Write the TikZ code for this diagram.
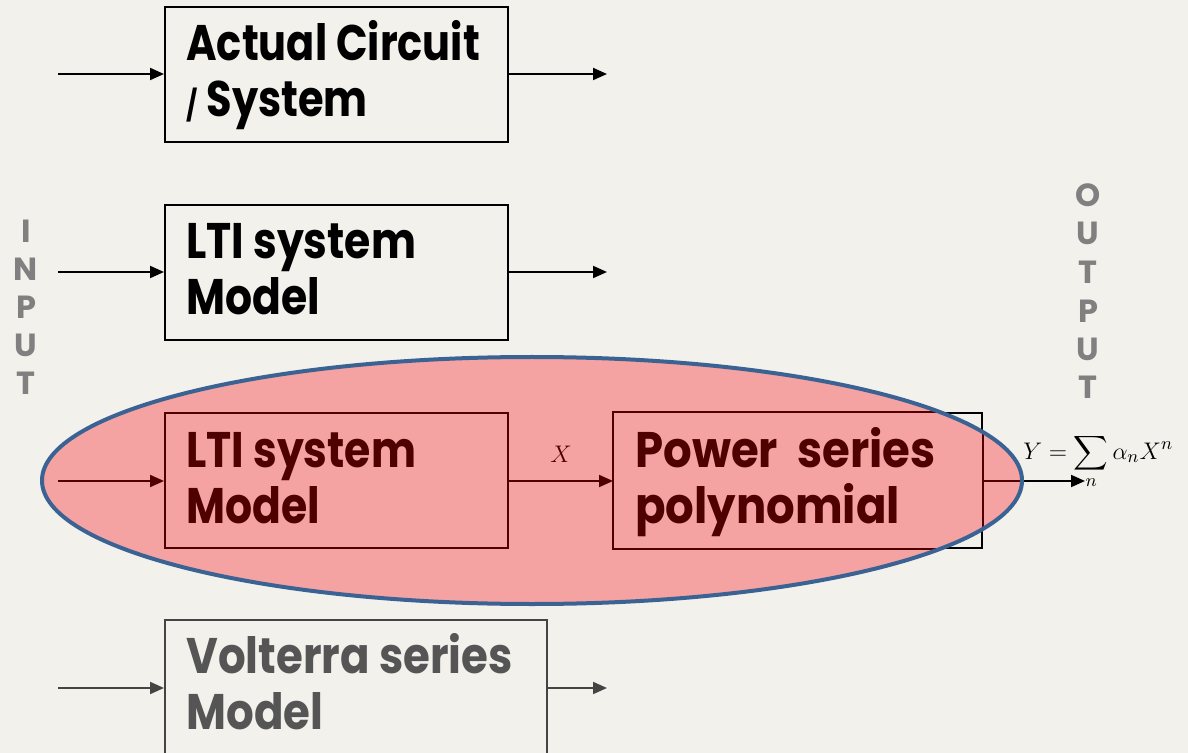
\documentclass[tikz,border=0pt]{standalone}
\usepackage{fontspec}
\usepackage{amsmath}
\usepackage{graphicx}
\setmainfont{Poppins}[BoldFont={Poppins Bold}]
\usetikzlibrary{arrows.meta,fit}
\definecolor{bgc}{HTML}{F2F1EC}
\definecolor{ellfill}{HTML}{F4A3A2}
\definecolor{ellline}{HTML}{3A6394}
\definecolor{dred}{HTML}{4F0000}
\definecolor{vgray}{HTML}{444444}
\definecolor{vtext}{HTML}{555555}
\definecolor{lgray}{HTML}{808080}
\newcommand\twolines[3][0.86]{\scalebox{#1}[1]{\begin{tabular}[t]{@{}l@{}}#2\\#3\end{tabular}}}
\tikzset{
  box/.style={draw, line width=1pt, inner sep=0pt},
  arr/.style={line width=1pt, -{Triangle[length=7pt,width=6pt]}},
  btext/.style={anchor=base west, inner sep=0pt, font=\fontsize{25}{28}\selectfont\bfseries},
  letter/.style={text=lgray, font=\fontsize{16}{16}\selectfont\bfseries, inner sep=0pt},
}
\begin{document}
\begin{tikzpicture}[x=0.5pt,y=-0.5pt]
\useasboundingbox (0,0) rectangle (1188,753);
\fill[bgc] (0,0) rectangle (1188,753);
\clip (0,0) rectangle (1188,753);
% row 1
\node[box, fit={(165,7)(508,142)}] (b1) {};
\node[btext] (t1) at (186,61) {\twolines[0.83]{Actual Circuit}{{\fontsize{15}{15}\selectfont /} System}};
\coordinate (i1) at (58,74); \coordinate (o1) at (607,74);
\draw[arr] (i1) -- (i1 -| b1.west);
\draw[arr] (o1 -| b1.east) -- (o1);
% row 2
\node[box, fit={(165,205)(508,340)}] (b2) {};
\node[btext] (t2) at (186,259) {\twolines[0.85]{LTI system}{Model}};
\coordinate (i2) at (58,272); \coordinate (o2) at (607,272);
\draw[arr] (i2) -- (i2 -| b2.west);
\draw[arr] (o2 -| b2.east) -- (o2);
% row 3 (black parts outside ellipse)
\node[box, fit={(614,413)(982,548)}] (b4) {};
\coordinate (o3) at (1085,481);
\draw[arr] (o3 -| b4.east) -- (o3);
% ellipse fill
\fill[ellfill] (532,480.5) ellipse [x radius=245pt, y radius=61.75pt];
\begin{scope}
\clip (532,480.5) ellipse [x radius=245pt, y radius=61.75pt];
\node[box, draw=dred, fit={(165,413)(508,548)}] (b3) {};
\draw[dred, line width=1pt] (b4.north west) rectangle (b4.south east);
\draw[dred, line width=1pt] (o3 -| b4.east) -- (o3);
\end{scope}
\coordinate (i3) at (58,481);
\draw[arr, dred] (i3) -- (i3 -| b3.west);
\draw[arr, dred] (i3 -| b3.east) -- (i3 -| b4.west) node[midway, above=9pt, inner sep=0pt, text=dred, font=\fontsize{12}{12}\selectfont] (xl) {$X$};
\node[btext, text=dred] (t3) at (186,467) {\twolines[0.85]{LTI system}{Model}};
\node[btext, text=dred] (t4) at (635,467) {\twolines[0.9]{Power\ \ series}{polynomial}};
\draw[ellline, line width=2pt] (532,480.5) ellipse [x radius=245pt, y radius=61.75pt];
\node[anchor=base west, inner sep=0pt, font=\fontsize{13}{13}\selectfont] (f) at (1023,459) {$Y=\displaystyle\sum_n \alpha_n X^n$};
% row 4
\node[box, draw=vgray, fit={(165,620)(547,770)}] (b5) {};
\node[btext, text=vtext] (t5) at (186,673) {\twolines[0.87]{Volterra series}{Model}};
\coordinate (i5) at (58,688); \coordinate (o5) at (607,688);
\draw[arr, vgray] (i5) -- (i5 -| b5.west);
\draw[arr, vgray] (o5 -| b5.east) -- (o5);
% INPUT / OUTPUT letters
\node[letter] (in1) at (26,231) {I};
\node[letter] (in2) at (26,269) {N};
\node[letter] (in3) at (26,307) {P};
\node[letter] (in4) at (26,345) {U};
\node[letter] (in5) at (26,383) {T};
\node[letter] (ou1) at (1088,195) {O};
\node[letter] (ou2) at (1088,233) {U};
\node[letter] (ou3) at (1088,272) {T};
\node[letter] (ou4) at (1088,311) {P};
\node[letter] (ou5) at (1088,349) {U};
\node[letter] (ou6) at (1088,387) {T};
\end{tikzpicture}
\end{document}
